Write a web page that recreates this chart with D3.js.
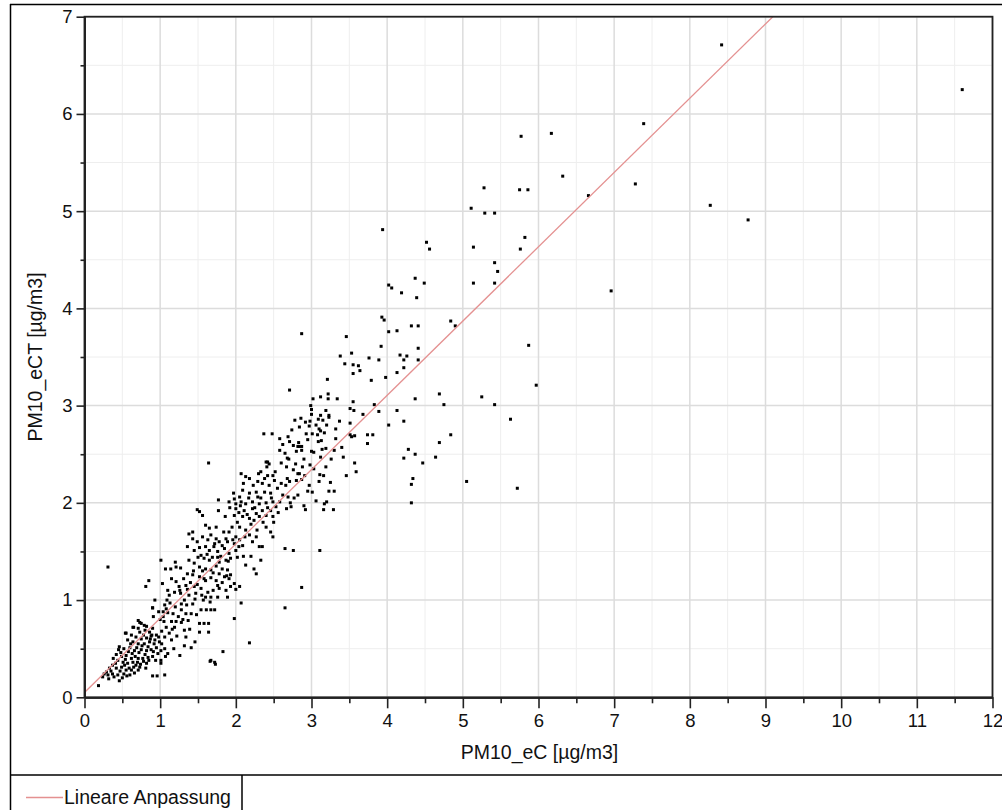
<!DOCTYPE html>
<html><head><meta charset="utf-8">
<script src="https://cdn.jsdelivr.net/npm/d3@7"></script>
<style>
html,body{margin:0;padding:0;background:#fff;}
svg{display:block;font-family:"Liberation Sans",Arial,sans-serif;}
</style></head>
<body>
<svg id="chart" width="1002" height="810"></svg>
<script>
// ---- data (PM10_eC, PM10_eCT) ----
const xTicks = [0,1,2,3,4,5,6,7,8,9,10,11,12];
const yTicks = [0,1,2,3,4,5,6,7];
const xMinor = [0.5,1.5,2.5,3.5,4.5,5.5,6.5,7.5,8.5,9.5,10.5,11.5];
const yMinor = [0.5,1.5,2.5,3.5,4.5,5.5,6.5];
const xTitle = "PM10_eC [µg/m3]";
const yTitle = "PM10_eCT [µg/m3]";
const legendLabel = "Lineare Anpassung";
const fitIntercept = 0.05;
const fitSlope = 0.764;

const outliers = [[0.31,1.34],[1.64,2.41],[2.87,3.74],[2.71,3.16],[3.94,4.81],[8.42,6.71],[11.6,6.25],[6.17,5.80],[6.32,5.36],[6.66,5.16],[6.96,4.18],[7.28,5.28],[7.39,5.90],[8.27,5.06],[8.77,4.91],[0.185,0.12],[5.28,5.24],[5.75,5.22],[5.86,5.22],[5.77,5.77]];

const upperPoints = [[5.11,5.03],[5.29,4.98],[5.42,4.98],[4.52,4.68],[4.56,4.61],[5.14,4.63],[5.82,4.73],[5.76,4.61],[5.42,4.47],[5.46,4.38],[4.37,4.31],[4.02,4.24],[4.06,4.21],[4.49,4.26],[5.14,4.26],[5.42,4.26],[4.19,4.16],[4.39,4.11],[3.93,3.91],[3.96,3.88],[4.32,3.82],[4.41,3.82],[4.84,3.87],[4.90,3.82],[4.02,3.76],[4.13,3.77],[3.92,3.61],[4.41,3.59],[4.17,3.52],[4.26,3.51],[4.22,3.47],[3.89,3.47],[4.41,3.47],[5.87,3.62],[4.22,3.39],[4.13,3.34],[3.98,3.29],[3.79,3.26],[5.97,3.21],[4.69,3.12],[4.37,3.07],[5.25,3.09],[3.83,3.01],[4.75,3.01],[5.42,3.01],[3.89,2.94],[4.13,2.95],[4.22,2.84],[4.02,2.80],[5.63,2.86],[3.81,2.70],[4.84,2.70],[4.69,2.62],[4.28,2.55],[4.37,2.50],[4.22,2.46],[4.64,2.47],[4.47,2.41],[4.34,2.25],[4.32,2.19],[5.05,2.22],[5.72,2.15],[4.32,2.00],[3.76,3.49]];

const midPoints = [[3.46,3.71],[3.38,3.51],[3.53,3.54],[3.44,3.43],[3.55,3.42],[3.62,3.41],[3.64,3.36],[3.55,3.33],[3.21,3.27],
[3.02,3.07],[3.12,3.09],[3.22,3.12],[3.22,3.07],[3.34,3.07],[3.55,3.04],[3.51,2.97],[3.56,2.95],[3.68,2.91],
[3.00,2.96],[3.19,2.95],[3.00,2.91],[3.12,2.90],[3.23,2.90],[3.23,2.88],
[2.92,2.83],[2.98,2.84],[3.09,2.86],[3.15,2.85],[3.37,2.84],[3.51,2.82],
[2.84,2.78],[2.97,2.79],[3.10,2.76],[3.12,2.74],[3.17,2.72],[3.32,2.76],
[2.93,2.71],[3.01,2.71],[3.08,2.70],[3.32,2.66],[3.51,2.70],[3.53,2.68],[3.57,2.69],[3.74,2.70],
[2.84,2.58],[2.87,2.58],[3.09,2.63],[3.13,2.64],[3.74,2.61],
[2.87,2.54],[3.00,2.53],[3.03,2.52],[3.19,2.56],[3.30,2.54],[3.40,2.57],
[3.12,2.47],[3.42,2.47],[2.98,2.39],[3.19,2.37],[3.57,2.41],[3.59,2.32],[3.46,2.28],
[2.88,2.37],[2.84,2.30],[2.91,2.28],[3.11,2.29],[3.16,2.28],[3.10,2.22],[3.25,2.21],[2.87,2.24],[2.97,2.18],
[3.01,2.11],[3.23,2.12],[3.30,2.12],[3.06,2.02],[3.17,1.99],[3.20,2.01],[2.90,1.97],[2.92,1.93],[3.16,1.93],[3.29,1.93],
[2.37,2.71],[2.48,2.71],[2.58,2.66],[2.69,2.68],[2.71,2.63],[2.76,2.59],[2.82,2.58],[2.58,2.54],[2.65,2.51],[2.68,2.46],[2.80,2.53],
[2.42,2.42],[2.60,2.41],[2.67,2.37],[2.76,2.34],[2.82,2.30],[2.60,2.20],[2.68,2.25],[2.71,2.22],[2.80,2.23],
[2.62,2.08],[2.69,2.06],[2.77,2.05],[2.82,2.08],[2.58,2.01],[2.67,1.94],[2.73,1.96],[2.78,2.85],
[1.98,0.81],[2.07,0.97],[2.18,0.56],[2.65,0.92],[2.87,1.13],[3.11,1.51],[2.76,1.51],[2.65,1.53],[1.83,0.47],[1.66,0.37],[1.73,0.34],
[2.62,2.60],[2.66,2.18],[2.70,2.45],[2.74,2.75],[2.79,2.40],[2.83,2.62],[2.86,2.87],[2.90,2.45],[2.95,2.65],[2.99,3.00],[3.03,2.35],[3.06,2.80],[3.14,2.55],[3.20,2.80],[3.26,2.45],[2.72,2.00],[2.95,2.12]];

const lowPoints = [[2.40,2.42],[2.41,2.37],[2.33,2.32],[2.42,2.28],[2.49,2.28],[2.07,2.30],[2.13,2.27],[2.18,2.25],[2.29,2.22],[2.35,2.20],[2.44,2.18],[2.51,2.23],
[2.09,2.13],[2.18,2.10],[2.27,2.11],[2.38,2.11],[2.46,2.10],[2.29,2.06],[1.98,2.04],[2.05,2.06],[1.91,2.01],[2.00,1.99],[2.07,2.01],[2.13,1.99],[2.22,2.01],[2.31,1.99],[2.40,2.00],[2.49,2.01],
[1.77,2.03],[1.49,1.93],[1.52,1.91],[1.77,1.92],[1.56,1.87],[2.00,1.94],[2.04,1.90],[2.11,1.92],[2.22,1.94],[2.27,1.89],[2.35,1.92],[2.46,1.92],[2.53,1.96],
[1.98,1.87],[2.09,1.86],[2.18,1.84],[2.24,1.82],[2.31,1.86],[2.40,1.87],[2.49,1.86],
[1.60,1.77],[1.65,1.74],[1.74,1.75],[1.43,1.70],[1.38,1.68],[1.91,1.70],[2.05,1.75],[2.00,1.65],[2.13,1.72],[1.87,1.63],[1.96,1.62],[2.05,1.62],[2.18,1.67],[2.27,1.65],[2.40,1.75],[2.46,1.70],[2.49,1.65],
[1.43,1.63],[1.49,1.60],[1.56,1.65],[1.63,1.62],[1.67,1.67],[1.74,1.63],[1.78,1.60],[1.82,1.56],[1.89,1.60],[1.98,1.58],[2.09,1.56],[2.22,1.60],[2.31,1.55],
[1.36,1.55],[1.45,1.51],[1.52,1.54],[1.60,1.55],[1.65,1.51],[1.71,1.55],[1.76,1.50],[1.85,1.53],[1.91,1.48],[2.00,1.51],[1.76,1.44],
[1.54,1.46],[1.58,1.43],[1.65,1.41],[1.69,1.44],[1.78,1.39],[1.87,1.41],[1.93,1.43],[2.02,1.44],[2.13,1.36],[2.24,1.32],[2.33,1.41],[2.27,1.27],
[1.01,1.41],[1.07,1.32],[1.14,1.32],[1.21,1.34],[1.27,1.33],[1.20,1.39],[1.38,1.41],[1.45,1.38],[1.52,1.34],[1.60,1.32],[1.67,1.31],[1.74,1.35],[1.82,1.32],[1.89,1.31],[1.78,1.27],[1.93,1.26],[1.85,1.24],
[1.36,1.27],[1.43,1.26],[1.52,1.24],[1.58,1.22],[1.67,1.23],[1.74,1.20],[1.82,1.18],[1.91,1.22],[1.98,1.17],[2.05,1.14],[2.00,1.11],[1.93,1.14],
[0.85,1.20],[0.81,1.14],[1.03,1.17],[1.21,1.19],[1.25,1.14],[1.34,1.15],[1.45,1.14],[1.54,1.12],[1.63,1.08],[1.70,1.10],[1.78,1.12],[1.87,1.10],
[1.19,1.08],[1.12,1.05],[1.27,1.07],[1.38,1.05],[1.47,1.07],[1.60,1.03],[1.67,1.03],[1.76,1.03],[1.89,1.03],
[0.93,1.00],[0.90,0.92],[1.09,1.00],[1.32,1.00],[1.46,1.01],[1.57,1.00],
[1.54,0.90],[1.61,0.90],[1.67,0.90],[1.72,0.90],[1.06,0.95],[1.08,0.91],[1.28,0.96],[1.17,0.86],[1.28,0.90],[1.34,0.86],[1.41,0.86],[1.04,0.83],[1.15,0.78],[1.21,0.78],[1.28,0.77],[1.37,0.79],[1.08,0.72],[1.19,0.72],[1.32,0.69],[1.52,0.76],[1.58,0.76],[1.64,0.76],[1.34,0.62],[1.52,0.67],[1.64,0.67],[1.06,0.62],[1.15,0.59],[1.46,0.57],[1.41,0.51],[1.32,0.53],[1.18,0.50],[1.06,0.50],[1.10,0.45],[1.26,0.43],[1.67,0.38],[1.72,0.36],[1.01,0.38],[1.07,0.42],[1.01,0.35],[1.06,0.23],[0.96,0.22],[0.90,0.22],
[1.02,0.68],[1.05,0.78],[1.10,0.87],[1.12,0.66],[1.13,0.97],[1.16,0.70],[1.20,0.93],[1.22,0.63],[1.24,0.83],[1.26,1.10],[1.30,0.80],[1.31,1.22],[1.35,0.95],[1.36,1.11],[1.39,0.70],[1.40,1.18],[1.43,0.96],[1.44,1.30],[1.48,0.85],[1.49,1.16],[1.50,1.44],[1.55,1.05],[1.56,1.30],[1.60,1.20],[1.62,1.47],[1.66,0.98],[1.70,1.28],[1.72,1.58],[1.76,1.15],[1.80,1.45],[1.15,1.22],[1.10,1.10],[1.00,0.80],[0.98,0.88],
[1.84,1.70],[1.86,1.86],[1.90,1.40],[1.92,1.95],[1.95,1.75],[1.97,2.10],[2.02,1.80],[2.04,1.55],[2.06,1.97],[2.10,2.20],[2.12,1.65],[2.15,1.88],[2.17,2.05],[2.20,1.78],[2.23,2.18],[2.25,1.95],[2.28,1.72],[2.30,2.30],[2.33,2.05],[2.36,1.80],[2.38,2.25],[2.42,1.95],[2.44,2.40],[2.47,2.05],[2.50,1.80],[2.52,2.32],[2.55,2.15],[2.56,1.90],[2.20,1.45],[2.35,1.55],[1.88,1.25],[2.10,1.45]];

const originCluster = [[0.71,0.79],[0.75,0.76],[0.79,0.74],[0.65,0.72],[0.71,0.71],[0.73,0.67],[0.80,0.69],[0.86,0.67],[0.90,0.71],[0.55,0.66],[0.62,0.64],[0.68,0.62],[0.75,0.60],[0.82,0.61],[0.88,0.63],[0.95,0.64],[0.57,0.59],[0.64,0.57],[0.71,0.55],[0.79,0.55],[0.86,0.57],[0.93,0.59],[0.99,0.57],[0.46,0.52],[0.52,0.50],[0.60,0.51],[0.66,0.48],[0.75,0.49],[0.82,0.48],[0.88,0.49],[0.95,0.51],[1.01,0.48],[0.42,0.44],[0.49,0.42],[0.55,0.43],[0.62,0.40],[0.71,0.40],[0.77,0.40],[0.84,0.41],[0.90,0.42],[0.44,0.38],[0.51,0.36],[0.57,0.35],[0.64,0.36],[0.68,0.33],[0.74,0.34],[0.82,0.35],[0.37,0.33],[0.42,0.30],[0.49,0.31],[0.55,0.28],[0.62,0.28],[0.71,0.28],[0.33,0.30],[0.31,0.23],[0.37,0.24],[0.44,0.23],[0.52,0.24],[0.60,0.23],[0.32,0.19],[0.46,0.17],[0.26,0.24],
[0.64,0.72],[0.73,0.77],[0.82,0.73],[0.89,0.64],[0.90,0.92],[0.91,0.83],[1.04,0.88],[0.54,0.66],
[0.35,0.27],[0.39,0.21],[0.41,0.35],[0.47,0.27],[0.48,0.46],[0.50,0.20],[0.53,0.33],[0.54,0.39],[0.56,0.22],[0.58,0.47],[0.59,0.30],[0.61,0.55],[0.63,0.45],[0.65,0.31],[0.66,0.25],[0.67,0.42],[0.69,0.51],[0.70,0.36],[0.72,0.46],[0.73,0.31],[0.76,0.53],[0.78,0.37],[0.78,0.64],[0.80,0.44],[0.81,0.30],[0.84,0.52],[0.85,0.38],[0.87,0.60],[0.91,0.47],[0.92,0.55],[0.94,0.38],[0.97,0.45],[0.98,0.62],[1.02,0.55],[0.29,0.26],[0.24,0.21],[0.38,0.40],[0.45,0.49]];

// ---- drawing ----
const svg = d3.select("#chart");
const W = 1002, H = 810;
const plot = {left:84.5, right:992.5, top:16.7, bottom:697.3};
const x = d3.scaleLinear().domain([0,12]).range([plot.left, plot.right]);
const y = d3.scaleLinear().domain([0,7]).range([plot.bottom, plot.top]);

svg.append("rect").attr("width",W).attr("height",H).attr("fill","#fff");

// grid
const grid = svg.append("g");
grid.selectAll(".vminor").data(xMinor).join("line")
  .attr("x1",d=>x(d)).attr("x2",d=>x(d)).attr("y1",plot.top).attr("y2",plot.bottom)
  .attr("stroke","#eeeeee").attr("stroke-width",1);
grid.selectAll(".hminor").data(yMinor).join("line")
  .attr("y1",d=>y(d)).attr("y2",d=>y(d)).attr("x1",plot.left).attr("x2",plot.right)
  .attr("stroke","#eeeeee").attr("stroke-width",1);
grid.selectAll(".vmajor").data(xTicks).join("line")
  .attr("x1",d=>x(d)).attr("x2",d=>x(d)).attr("y1",plot.top).attr("y2",plot.bottom)
  .attr("stroke","#dcdcdc").attr("stroke-width",1.5);
grid.selectAll(".hmajor").data(yTicks).join("line")
  .attr("y1",d=>y(d)).attr("y2",d=>y(d)).attr("x1",plot.left).attr("x2",plot.right)
  .attr("stroke","#dcdcdc").attr("stroke-width",1.5);

// points
const allPoints = [].concat(originCluster, lowPoints, midPoints, upperPoints, outliers);
svg.append("g").selectAll("rect").data(allPoints).join("rect")
  .attr("x",d=>x(d[0])-1.5).attr("y",d=>y(d[1])-1.5)
  .attr("width",3).attr("height",3).attr("fill","#000");

// fit line (clipped to plot)
svg.append("clipPath").attr("id","clipPlot").append("rect")
  .attr("x",plot.left).attr("y",plot.top).attr("width",plot.right-plot.left).attr("height",plot.bottom-plot.top);
const xEnd = (7 - fitIntercept)/fitSlope;
svg.append("line").attr("clip-path","url(#clipPlot)")
  .attr("x1",x(0)).attr("y1",y(fitIntercept))
  .attr("x2",x(xEnd)).attr("y2",y(fitIntercept+fitSlope*xEnd))
  .attr("stroke","#e49191").attr("stroke-width",1.3);

// plot frame (top/right)
svg.append("rect").attr("x",plot.left).attr("y",plot.top)
  .attr("width",plot.right-plot.left).attr("height",plot.bottom-plot.top)
  .attr("fill","none").attr("stroke","#222").attr("stroke-width",1.8);

// axes
const fontSize = 18.5;
function styleAxis(g){
  g.select(".domain").attr("stroke","#222").attr("stroke-width",1.8);
  g.selectAll(".tick line").attr("stroke","#222").attr("stroke-width",1.6);
  g.selectAll("text").attr("fill","#111").style("font-size",fontSize+"px").style("font-family","'Liberation Sans',Arial,sans-serif");
}
svg.append("g").attr("transform",`translate(0,${plot.bottom})`)
  .call(d3.axisBottom(x).tickValues(xMinor).tickSize(6).tickFormat("").tickSizeOuter(0))
  .call(styleAxis);
svg.append("g").attr("transform",`translate(0,${plot.bottom})`)
  .call(d3.axisBottom(x).tickValues(xTicks).tickSize(11).tickPadding(6).tickFormat(d3.format("d")).tickSizeOuter(0))
  .call(styleAxis);
svg.append("g").attr("transform",`translate(${plot.left},0)`)
  .call(d3.axisLeft(y).tickValues(yMinor).tickSize(4).tickFormat("").tickSizeOuter(0))
  .call(styleAxis);
svg.append("g").attr("transform",`translate(${plot.left},0)`)
  .call(d3.axisLeft(y).tickValues(yTicks).tickSize(8).tickPadding(4).tickFormat(d3.format("d")).tickSizeOuter(0))
  .call(styleAxis);

// axis titles
const titleSize = "19.5px";
svg.append("text").attr("x",(plot.left+plot.right)/2 + 1).attr("y",759)
  .attr("text-anchor","middle").attr("fill","#111").style("font-size",titleSize).text(xTitle);
svg.append("text").attr("transform",`translate(42,${(plot.top+plot.bottom)/2}) rotate(-90)`)
  .attr("text-anchor","middle").attr("fill","#111").style("font-size",titleSize).text(yTitle);

// outer frame and legend box
const frame = svg.append("g").attr("stroke","#000").attr("stroke-width",1.5);
frame.append("line").attr("x1",10).attr("x2",W).attr("y1",4.5).attr("y2",4.5);
frame.append("line").attr("x1",10.5).attr("x2",10.5).attr("y1",4).attr("y2",H);
frame.append("line").attr("x1",10).attr("x2",W).attr("y1",775).attr("y2",775);
frame.append("line").attr("x1",242).attr("x2",242).attr("y1",775).attr("y2",H);

// legend
svg.append("line").attr("x1",26).attr("x2",63).attr("y1",797.5).attr("y2",797.5)
  .attr("stroke","#e49191").attr("stroke-width",1.5);
svg.append("text").attr("x",64).attr("y",804).attr("fill","#111")
  .style("font-size",titleSize).text(legendLabel);
</script>
</body></html>
